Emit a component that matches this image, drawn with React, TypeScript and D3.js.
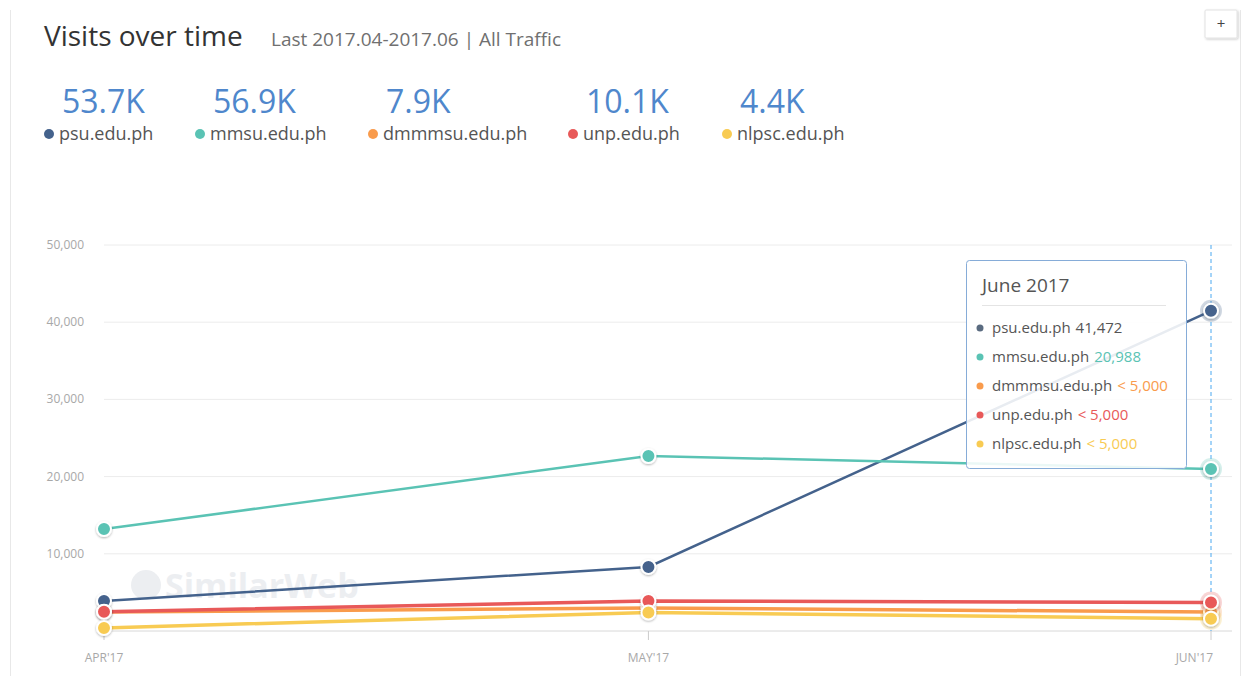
import React from 'react';
import * as d3 from 'd3';

const months = ["APR'17", "MAY'17", "JUN'17"];
const monthDates = [new Date(2017, 3, 1), new Date(2017, 4, 1), new Date(2017, 5, 1)];
const psu = [3900, 8300, 41472];
const mmsu = [13210, 22670, 20988];
const dmmmsu = [2460, 2980, 2460];
const unp = [2500, 3900, 3700];
const nlpsc = [400, 2400, 1600];
const totals = ['53.7K', '56.9K', '7.9K', '10.1K', '4.4K'];
const yTicks = [10000, 20000, 30000, 40000, 50000];
const tipValues = ['41,472', '20,988', '< 5,000', '< 5,000', '< 5,000'];

const series = [
  { name: 'psu.edu.ph', values: psu, color: '#44628c', width: 2.5 },
  { name: 'mmsu.edu.ph', values: mmsu, color: '#5ac3b4', width: 2.5 },
  { name: 'dmmmsu.edu.ph', values: dmmmsu, color: '#f99b4c', width: 3.5 },
  { name: 'unp.edu.ph', values: unp, color: '#e85959', width: 3.5 },
  { name: 'nlpsc.edu.ph', values: nlpsc, color: '#f8cb53', width: 3.5 },
];
const tipColors = ['#5a6b80', '#5ac3b4', '#f99b4c', '#e85959', '#f8cb53'];
const legendX = [44, 195, 368, 568, 722];

const FONT = '"Open Sans", "Noto Sans", sans-serif';

export default function App() {
  const width = 1258;
  const height = 676;

  // time scale so the month spacing follows the calendar, as in the original
  const x = d3.scaleTime().domain([monthDates[0], monthDates[2]]).range([104, 1211]);
  const y = d3.scaleLinear().domain([0, 50000]).range([631, 245]);

  const line = d3
    .line<number>()
    .x((_, i) => x(monthDates[i]))
    .y((d) => y(d));

  const xJun = x(monthDates[2]);

  return (
    <svg
      width={width}
      height={height}
      style={{ position: 'absolute', left: 0, top: 0, fontFamily: FONT }}
    >
      <defs>
        <filter id="shadow" x="-50%" y="-50%" width="200%" height="200%">
          <feDropShadow dx="0" dy="1" stdDeviation="1.2" floodColor="#000" floodOpacity="0.3" />
        </filter>
        <filter id="btnShadow" x="-30%" y="-30%" width="160%" height="160%">
          <feDropShadow dx="1" dy="1" stdDeviation="1" floodColor="#000" floodOpacity="0.2" />
        </filter>
      </defs>
      <rect width={width} height={height} fill="#fff" />
      {/* card edges */}
      <line x1={10.5} x2={10.5} y1={10} y2={676} stroke="#e8e8e8" />
      <line x1={1240.5} x2={1240.5} y1={10} y2={676} stroke="#e8e8e8" />

      {/* + button */}
      <rect x={1205} y={10} width={32} height={28} fill="#fff" stroke="#e2e2e2" filter="url(#btnShadow)" rx={1} />
      <text x={1221} y={29} textAnchor="middle" fontSize={15} fill="#444">+</text>

      {/* header */}
      <text x={44} y={46} fontSize={28} fill="#333">Visits over time</text>
      <text x={271} y={46} fontSize={19} fill="#707070">Last 2017.04-2017.06 | All Traffic</text>

      {series.map((s, i) => (
        <g key={s.name}>
          <text x={legendX[i] + 18} y={113} fontSize={32} fill="#4f87cc">{totals[i]}</text>
          <circle cx={legendX[i] + 5} cy={134} r={5} fill={s.color} />
          <text x={legendX[i] + 15} y={140} fontSize={18} fill="#555">{s.name}</text>
        </g>
      ))}

      {/* grid */}
      {yTicks.map((t) => (
        <g key={t}>
          <line x1={104} x2={1232} y1={y(t)} y2={y(t)} stroke="#ececec" />
          <text x={84} y={y(t) + 4} textAnchor="end" fontSize={12} fill="#a8a8a8">
            {d3.format(',')(t)}
          </text>
        </g>
      ))}
      <line x1={104} x2={1232} y1={y(0)} y2={y(0)} stroke="#d8d8d8" />
      {months.map((m, i) => (
        <g key={m}>
          <line x1={x(monthDates[i])} x2={x(monthDates[i])} y1={y(0)} y2={y(0) + 9} stroke="#ccc" />
          <text
            x={x(monthDates[i])}
            y={662}
            textAnchor={i === 2 ? 'end' : 'middle'}
            dx={i === 2 ? 2 : 0}
            fontSize={12}
            fill="#a8a8a8"
          >
            {m}
          </text>
        </g>
      ))}

      {/* watermark */}
      <circle cx={146} cy={585} r={15} fill="#eceef1" />
      <text x={165} y={598} fontSize={34} fontWeight={700} fill="#eceef1">SimilarWeb</text>

      {/* hover line */}
      <line x1={xJun} x2={xJun} y1={245} y2={y(0)} stroke="#4aa8f0" strokeDasharray="4,3" />

      {/* lines */}
      {series.map((s) => (
        <path key={s.name} d={line(s.values) || ''} fill="none" stroke={s.color} strokeWidth={s.width} />
      ))}

      {/* points */}
      {series.map((s) => (
        <g key={s.name + '-pts'}>
          {s.values.map((v, i) => (
            <g key={i}>
              {i === 2 && (
                <circle cx={xJun} cy={y(v)} r={11} fill={s.color} opacity={0.25} />
              )}
              <circle
                cx={x(monthDates[i])}
                cy={y(v)}
                r={7}
                fill={s.color}
                stroke="#fff"
                strokeWidth={2}
                filter="url(#shadow)"
              />
            </g>
          ))}
        </g>
      ))}

      {/* tooltip */}
      <g>
        <rect x={966.5} y={260.5} width={220} height={208} rx={3} fill="#fff" fillOpacity={0.88} stroke="#86acd8" />
        <text x={982} y={292} fontSize={19} fill="#555">June 2017</text>
        <line x1={982} x2={1166} y1={305.5} y2={305.5} stroke="#e4e4e4" />
        {series.map((s, i) => {
          const ty = 333 + i * 29;
          return (
            <g key={s.name + '-tip'}>
              <circle cx={980} cy={ty - 5} r={3.5} fill={tipColors[i]} />
              <text x={992} y={ty} fontSize={15} fill="#555">
                {s.name}
                <tspan dx={5} fill={i === 0 ? '#555' : s.color}>{tipValues[i]}</tspan>
              </text>
            </g>
          );
        })}
      </g>
    </svg>
  );
}
